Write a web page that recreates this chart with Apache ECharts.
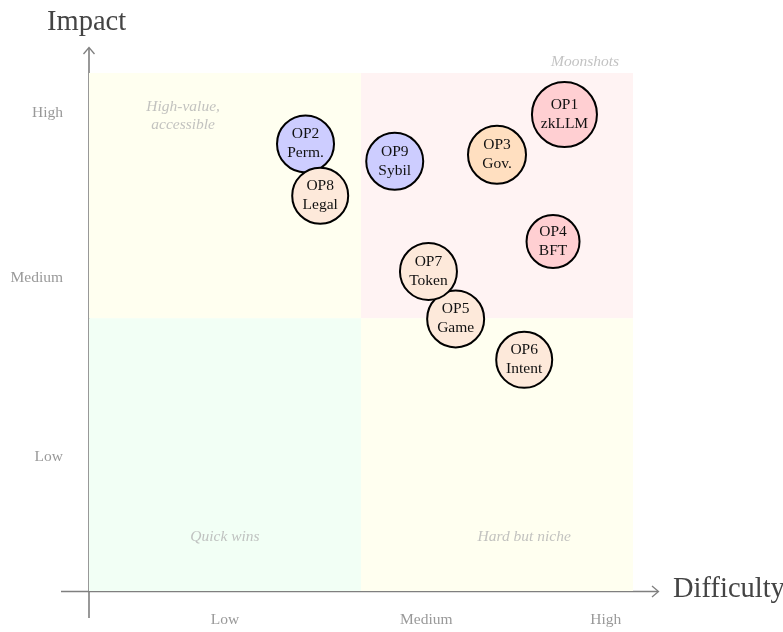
<!DOCTYPE html>
<html>
<head>
<meta charset="utf-8">
<style>
  html, body { margin: 0; padding: 0; background: #fff; }
  #chart { width: 783px; height: 632px; }
</style>
<script src="https://cdn.jsdelivr.net/npm/echarts@6/dist/echarts.min.js"></script>
</head>
<body>
<div id="chart"></div>
<script>
// projects
const codes = ['OP1', 'OP2', 'OP3', 'OP4', 'OP5', 'OP6', 'OP7', 'OP8', 'OP9']
const shortNames = ['zkLLM', 'Perm.', 'Gov.', 'BFT', 'Game', 'Intent', 'Token', 'Legal', 'Sybil']
const difficulty = [8.74, 3.98, 7.50, 8.53, 6.74, 8.00, 6.24, 4.25, 5.62]
const impact = [8.74, 8.20, 8.00, 6.41, 4.99, 4.24, 5.86, 7.25, 7.88]
const groups = ['hard', 'access', 'mid', 'hard', 'light', 'light', 'light', 'light', 'access']
const bubbleSize = [65, 57, 58, 53, 57, 56, 57, 56, 57]

// tick labels
const xTickValues = [2.5, 6.2, 9.5]
const xTickLabels = ['Low', 'Medium', 'High']
const yTickValues = [2.46, 5.74, 8.77]
const yTickLabels = ['Low', 'Medium', 'High']

// quadrant captions
const quadNames = ['High-value,\naccessible', 'Moonshots', 'Quick wins', 'Hard but niche']
const quadX = [1.73, 9.12, 2.5, 8.0]
const quadY = [8.72, 9.71, 1.0, 0.99]

const groupColor = {
  hard: '#ffcfd2',
  access: '#cdcdff',
  mid: '#ffdfc0',
  light: '#fde9da'
}

const serif = '"Liberation Serif", "DejaVu Serif", serif'
const axisGray = '#7f7f7f'

const chart = echarts.init(document.getElementById('chart'))

chart.setOption({
  animation: false,
  grid: { left: 89, top: 73, right: 150, bottom: 41 },
  xAxis: {
    type: 'value',
    min: 0,
    max: 10,
    splitLine: { show: false },
    axisLine: { show: false },
    axisTick: { show: false },
    axisLabel: {
      customValues: xTickValues,
      formatter: v => xTickLabels[xTickValues.indexOf(v)],
      margin: 21,
      color: '#999',
      fontFamily: serif,
      fontSize: 15.5
    }
  },
  yAxis: {
    type: 'value',
    min: 0,
    max: 9.5,
    splitLine: { show: false },
    axisLine: { show: false },
    axisTick: { show: false },
    axisLabel: {
      customValues: yTickValues,
      formatter: v => yTickLabels[yTickValues.indexOf(v)],
      margin: 26,
      color: '#999',
      fontFamily: serif,
      fontSize: 15.5
    }
  },
  graphic: [
    // axes with arrows, drawn as in the source figure
    { type: 'line', z: 1, shape: { x1: 89, y1: 618, x2: 89, y2: 48 }, style: { stroke: axisGray, lineWidth: 1.6 } },
    { type: 'polyline', z: 1, shape: { points: [[83.5, 54], [89, 47.5], [94.5, 54]] }, style: { stroke: axisGray, lineWidth: 1.3, fill: null } },
    { type: 'line', z: 1, shape: { x1: 61, y1: 591.5, x2: 658, y2: 591.5 }, style: { stroke: axisGray, lineWidth: 1.6 } },
    { type: 'polyline', z: 1, shape: { points: [[652, 586], [658.5, 591.5], [652, 597]] }, style: { stroke: axisGray, lineWidth: 1.3, fill: null } },
    { type: 'text', left: 47, top: 8, style: { text: 'Impact', font: '28.5px ' + serif, fill: '#444' } },
    { type: 'text', left: 673, top: 575, style: { text: 'Difficulty', font: '28.5px ' + serif, fill: '#444' } }
  ],
  series: [
    {
      type: 'scatter',
      z: 2,
      silent: true,
      data: [],
      markArea: {
        silent: true,
        itemStyle: { opacity: 1 },
        data: [
          [{ coord: [0, 5], itemStyle: { color: '#fffff0' } }, { coord: [5, 9.5] }],
          [{ coord: [5, 5], itemStyle: { color: '#fff3f3' } }, { coord: [10, 9.5] }],
          [{ coord: [0, 0], itemStyle: { color: '#f2fff5' } }, { coord: [5, 5] }],
          [{ coord: [5, 0], itemStyle: { color: '#fffff0' } }, { coord: [10, 5] }]
        ]
      }
    },
    {
      type: 'scatter',
      z: 3,
      clip: false,
      symbolSize: 0,
      data: quadNames.map((n, i) => ({ name: n, value: [quadX[i], quadY[i]] })),
      label: {
        show: true,
        position: 'inside',
        formatter: p => p.name,
        fontFamily: serif,
        fontStyle: 'italic',
        fontSize: 15.5,
        lineHeight: 18,
        color: '#b3b3b3'
      }
    },
    {
      type: 'scatter',
      z: 4,
      data: codes.map((c, i) => ({
        name: c,
        value: [difficulty[i], impact[i]],
        symbolSize: bubbleSize[i],
        itemStyle: { color: groupColor[groups[i]] },
        sub: shortNames[i]
      })),
      itemStyle: { borderColor: '#000', borderWidth: 2, opacity: 1 },
      label: {
        show: true,
        position: 'inside',
        formatter: p => p.name + '\n' + p.data.sub,
        fontFamily: serif,
        fontSize: 15.5,
        lineHeight: 19,
        color: '#111'
      }
    }
  ]
})
</script>
</body>
</html>
